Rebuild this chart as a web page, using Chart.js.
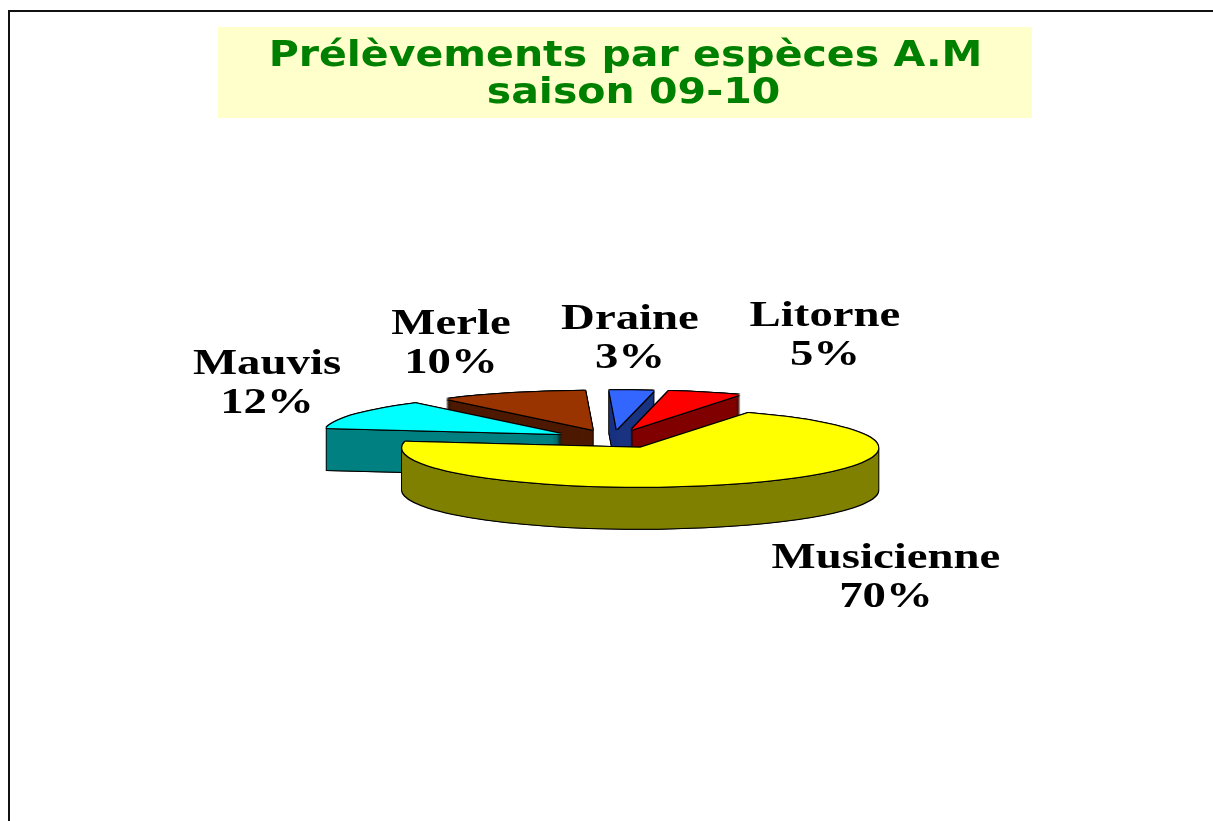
<!DOCTYPE html>
<html>
<head>
<meta charset="utf-8">
<title>Prélèvements par espèces</title>
<script src="https://cdn.jsdelivr.net/npm/chart.js@4/dist/chart.umd.js"></script>
<style>
  html, body { margin: 0; padding: 0; background: #fff; overflow: hidden; }
  #wrap { position: relative; width: 1213px; height: 821px; }
  #frame { position: absolute; left: 8px; top: 10px; width: 1300px; height: 900px; border: 2px solid #111; }
  canvas { position: absolute; left: 0; top: 0; }
</style>
</head>
<body>
<div id="wrap">
  <div id="frame"></div>
  <canvas id="pie" width="1213" height="821"></canvas>
</div>
<script>
// clockwise from the top right edge of the yellow slice
const species = ["Musicienne", "Mauvis", "Merle", "Draine", "Litorne"];
const shares = [70, 12, 10, 3, 5];
const topColors = ["#ffff00", "#00ffff", "#993300", "#3366ff", "#ff0000"];
const sideColors = ["#808000", "#008080", "#4d1a00", "#1a3380", "#800000"];
const titleLines = ["Prélèvements par espèces A.M", "saison 09-10"];

// back to front
const drawOrder = [2, 3, 4, 1, 0];
// label centres, one per species
const labelSpots = [[886, 556], [267, 362], [451, 322], [630, 317], [825, 314]];

const squash = 0.164;
const depth = 42;
const explode = 60;
const pieX = 613;
const pieY = 439;

function paintArc(ctx, arc, color, dx, dy) {
  const saved = arc.options;
  arc.options = { ...saved, backgroundColor: color, borderWidth: 0, offset: 0, spacing: 0 };
  const mid = (arc.startAngle + arc.endAngle) / 2;
  ctx.save();
  // screen space shift first, then flatten the circle into an ellipse
  ctx.translate(pieX + dx, pieY + dy);
  ctx.scale(1, squash);
  ctx.translate(Math.cos(mid) * explode - arc.x, Math.sin(mid) * explode - arc.y);
  arc.draw(ctx);
  ctx.restore();
  arc.options = saved;
}

const pie3d = {
  id: "pie3d",
  beforeDatasetDraw(chart, args) {
    const ctx = chart.ctx;
    const arcs = args.meta.data;
    drawOrder.forEach((i) => {
      const arc = arcs[i];
      // wall: black silhouette then the dark colour
      for (let y = depth + 1; y > 0; y--) {
        paintArc(ctx, arc, "#000", -1, y);
        paintArc(ctx, arc, "#000", 1, y);
      }
      for (let y = depth; y > 0; y--) {
        paintArc(ctx, arc, sideColors[i], 0, y);
      }
      // top face with its outline
      [[-1, -1], [1, -1], [-1, 1], [1, 1], [0, -1], [0, 1], [-1, 0], [1, 0]].forEach(([dx, dy]) => {
        paintArc(ctx, arc, "#000", dx, dy);
      });
      paintArc(ctx, arc, topColors[i], 0, 0);
    });
    return false;
  },
  afterDraw(chart) {
    const ctx = chart.ctx;
    ctx.save();
    ctx.textAlign = "center";
    ctx.textBaseline = "alphabetic";

    ctx.fillStyle = "#ffffcc";
    ctx.fillRect(218, 27, 814, 91);
    ctx.fillStyle = "#008000";
    ctx.font = "bold 36px 'DejaVu Sans'";
    stretched(ctx, titleLines[0], 625.5, 66, 1.14);
    stretched(ctx, titleLines[1], 633.5, 103, 1.14);

    ctx.fillStyle = "#000";
    ctx.font = "bold 36px 'Liberation Serif'";
    species.forEach((name, i) => {
      const [x, y] = labelSpots[i];
      stretched(ctx, name, x, y + 12, 1.3);
      stretched(ctx, shares[i] + "%", x, y + 51, 1.3);
    });
    ctx.restore();
  }
};

function stretched(ctx, text, x, y, sx) {
  ctx.save();
  ctx.translate(x, y);
  ctx.scale(sx, 1);
  ctx.fillText(text, 0, 0);
  ctx.restore();
}

new Chart(document.getElementById("pie"), {
  type: "pie",
  data: {
    labels: species,
    datasets: [{ data: shares, backgroundColor: topColors, borderWidth: 0 }]
  },
  options: {
    responsive: false,
    animation: false,
    rotation: 27,
    radius: 238,
    layout: { padding: 0 },
    plugins: { legend: { display: false }, tooltip: { enabled: false } }
  },
  plugins: [pie3d]
});
</script>
</body>
</html>
